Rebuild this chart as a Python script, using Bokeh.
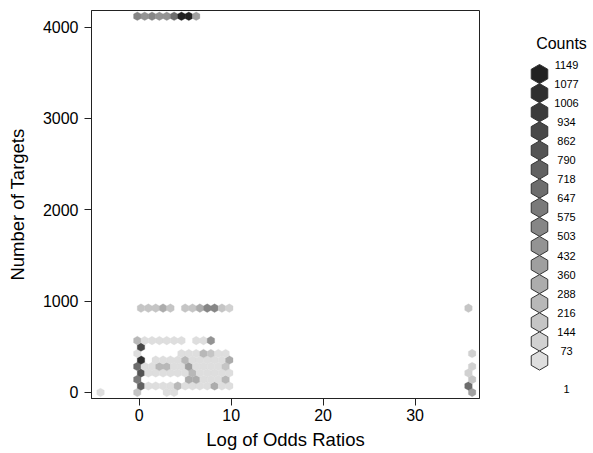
import numpy as np
from bokeh.plotting import figure
from bokeh.layouts import row
from bokeh.models import Range1d, FixedTicker, ColumnDataSource
from bokeh.core.properties import value
from bokeh.embed import file_html
from bokeh.resources import INLINE

# Hexbin cells: centre (log odds ratio, number of targets) and the count in each cell
hex_log_odds = [
    -4.2, -0.2, 3.0, 3.8, 36.2,
    0.2, 1.0, 1.8, 2.6, 3.4, 4.2, 5.0, 5.8, 6.6, 7.4, 8.2, 9.0, 9.8, 35.8,
    -0.2, 5.4, 6.2, 7.0, 7.8, 8.6, 9.4, 36.2,
    0.2, 1.0, 1.8, 2.6, 3.4, 4.2, 5.0, 5.8, 6.6, 7.4, 8.2, 9.0, 9.8, 35.8,
    -0.2, 0.6, 1.4, 2.2, 3.0, 3.8, 4.6, 5.4, 6.2, 7.0, 7.8, 8.6, 9.4, 36.2,
    0.2, 1.8, 2.6, 3.4, 4.2, 5.0, 5.8, 6.6, 7.4, 8.2, 9.0, 9.8,
    -0.2, 4.6, 5.4, 6.2, 7.0, 7.8, 8.6, 9.4, 36.2,
    0.2,
    -0.2, 0.6, 1.4, 2.2, 3.0, 3.8, 4.6, 6.2, 7.0, 7.8,
    0.2, 1.0, 1.8, 2.6, 3.4, 5.0, 5.8, 6.6, 7.4, 8.2, 9.0, 9.8, 35.8,
    -0.2, 0.6, 1.4, 2.2, 3.0, 3.8, 4.6, 5.4, 6.2,
]
hex_targets = [
    0, 0, 0, 0, 0,
    71, 71, 71, 71, 71, 71, 71, 71, 71, 71, 71, 71, 71, 71,
    142, 142, 142, 142, 142, 142, 142, 142,
    213, 213, 213, 213, 213, 213, 213, 213, 213, 213, 213, 213, 213, 213,
    284, 284, 284, 284, 284, 284, 284, 284, 284, 284, 284, 284, 284, 284,
    355, 355, 355, 355, 355, 355, 355, 355, 355, 355, 355, 355,
    426, 426, 426, 426, 426, 426, 426, 426, 426,
    497,
    568, 568, 568, 568, 568, 568, 568, 568, 568, 568,
    923, 923, 923, 923, 923, 923, 923, 923, 923, 923, 923, 923, 923,
    4118, 4118, 4118, 4118, 4118, 4118, 4118, 4118, 4118,
]
hex_counts = [
    30, 150, 20, 25, 380,
    720, 40, 35, 30, 45, 230, 40, 60, 35, 50, 300, 30, 25, 660,
    590, 300, 290, 45, 40, 30, 220, 150,
    800, 30, 25, 35, 40, 30, 55, 230, 45, 40, 35, 30, 20, 80,
    650, 40, 45, 225, 220, 50, 45, 370, 40, 35, 45, 30, 150, 75,
    1010, 30, 35, 40, 45, 225, 50, 40, 35, 45, 30, 295,
    25, 30, 40, 45, 230, 150, 40, 30, 75,
    870,
    230, 40, 35, 30, 40, 35, 30, 45, 40, 440,
    150, 145, 150, 290, 145, 150, 145, 290, 510, 505, 150, 75, 150,
    510, 440, 505, 440, 435, 650, 1149, 1080, 365,
]

count_breaks = [1, 73, 144, 216, 288, 360, 432, 503, 575, 647, 718, 790,
                862, 934, 1006, 1077, 1149]
x_ticks = [0, 10, 20, 30]
y_ticks = [0, 1000, 2000, 3000, 4000]

FONT = "Liberation Sans"

# grey ramp, light for low counts to dark for high counts
n_levels = len(count_breaks) - 1
greys = np.linspace(222, 34, n_levels).round().astype(int)
palette = ["#%02x%02x%02x" % (g, g, g) for g in greys]

level = np.clip(np.searchsorted(count_breaks, hex_counts, side="right") - 1, 0, n_levels - 1)
src = ColumnDataSource(dict(
    x=hex_log_odds, y=hex_targets, n=hex_counts,
    color=[palette[i] for i in level],
))

p = figure(width=500, height=453, output_backend="svg", toolbar_location=None,
           x_range=Range1d(-5.18, 37.0), y_range=Range1d(-66, 4181),
           min_border_left=91, min_border_right=21, min_border_top=10,
           min_border_bottom=55)
p.grid.visible = False
p.outline_line_color = "#222222"
p.background_fill_color = "white"

p.scatter("x", "y", source=src, marker="hex", size=8.6, angle=np.pi / 2,
          fill_color="color", line_color="color", line_width=0.3)

for ax, ticks in ((p.xaxis[0], x_ticks), (p.yaxis[0], y_ticks)):
    ax.ticker = FixedTicker(ticks=ticks)
    ax.minor_tick_line_color = None
    ax.major_tick_in = 0
    ax.major_tick_out = 7
    ax.axis_line_color = "#222222"
    ax.major_tick_line_color = "#222222"
    ax.major_label_text_font = FONT
    ax.major_label_text_font_size = "16px"
    ax.major_label_text_color = "black"
    ax.axis_label_text_font = FONT
    ax.axis_label_text_font_style = "normal"
    ax.axis_label_text_font_size = "18.5px"
    ax.axis_label_text_color = "black"

p.xaxis.axis_label = "Log of Odds Ratios"
p.xaxis.major_label_standoff = 3
p.xaxis.axis_label_standoff = 5
p.yaxis.axis_label = "Number of Targets"
p.yaxis.major_label_standoff = 6
p.yaxis.axis_label_standoff = 12

# legend panel: its frame spans the same rows as the main frame, and the
# ranges are chosen so that one data unit equals one screen pixel
leg = figure(width=93, height=453, output_backend="svg", toolbar_location=None,
             x_range=Range1d(0, 93), y_range=Range1d(398, 10),
             x_axis_location=None, y_axis_location=None,
             min_border_left=0, min_border_right=0,
             min_border_top=10, min_border_bottom=55)
leg.grid.visible = False
leg.outline_line_color = None

step = 19.1
top = 64.0
key_y = [top + step * (i + 0.5) for i in range(n_levels)]
key_colors = palette[::-1]
leg.scatter(x=[39] * n_levels, y=key_y, marker="hex", size=step, angle=np.pi / 2,
            fill_color=key_colors, line_color="#333333", line_width=1)

label_text = [str(b) for b in count_breaks[::-1]]
label_y = [top + step * i for i in range(n_levels)] + [top + step * (n_levels + 1)]
leg.text(x=[66] * len(label_text), y=label_y, text=label_text,
         text_font=value(FONT), text_font_size="11px", text_align="center",
         text_baseline="middle", text_color="black")
leg.text(x=[61], y=[43], text=["Counts"], text_font=value(FONT),
         text_font_size="16px", text_align="center", text_baseline="middle",
         text_color="black")

layout = row(p, leg)
open("out.html", "w").write(file_html(layout, INLINE))
